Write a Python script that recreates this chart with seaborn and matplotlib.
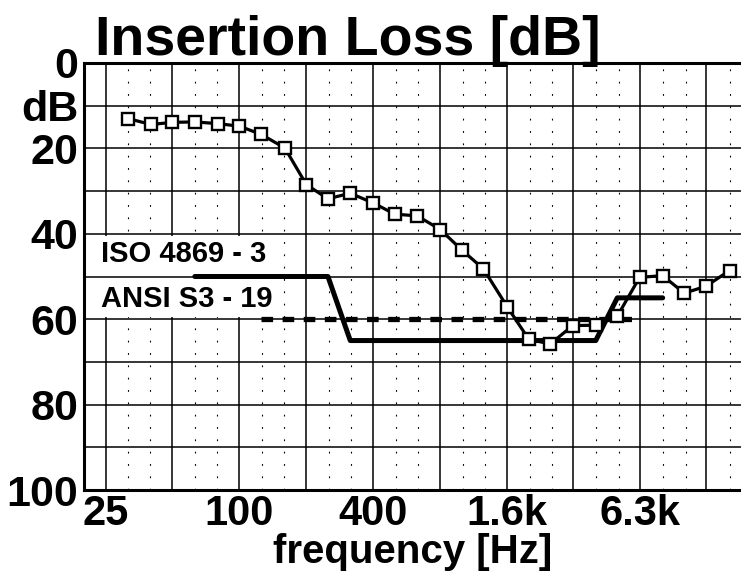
import numpy as np
import seaborn as sns
import matplotlib.pyplot as plt
from matplotlib.patches import Rectangle
from matplotlib.ticker import NullLocator

# measured insertion loss, 1/3-octave bands
freq = [31.5, 40, 50, 63, 80, 100, 125, 160, 200, 250, 315, 400, 500, 630,
        800, 1000, 1250, 1600, 2000, 2500, 3150, 4000, 5000, 6300, 8000,
        10000, 12500, 16000]
insertion_loss = [13.0, 14.4, 13.9, 13.8, 14.2, 14.8, 16.7, 19.9, 28.5, 31.8,
                  30.5, 32.8, 35.4, 35.8, 39.0, 43.8, 48.2, 57.1, 64.7, 65.8,
                  61.5, 61.4, 59.3, 50.2, 49.8, 53.9, 52.3, 48.6]

# reference limits
iso_freq = [63, 250, 315, 4000, 5000, 8000]
iso_loss = [50, 50, 65, 65, 55, 55]
ansi_freq = [125, 6300]
ansi_loss = [60, 60]

x_ticks = [25, 100, 400, 1600, 6300]
x_tick_labels = ["25", "100", "400", "1.6k", "6.3k"]
octave_lines = [25, 50, 100, 200, 400, 800, 1600, 3150, 6300, 12500]
y_ticks = list(range(0, 101, 10))
y_tick_labels = ["0", "dB", "20", "", "40", "", "60", "", "80", "", "100"]

sns.set_style("white")
plt.rcParams["font.family"] = ["Liberation Sans", "DejaVu Sans"]
plt.rcParams["font.weight"] = "bold"
plt.rcParams["text.color"] = "black"
plt.rcParams["xtick.color"] = "black"
plt.rcParams["ytick.color"] = "black"
plt.rcParams["axes.labelcolor"] = "black"

fig = plt.figure(figsize=(7.41, 5.71), dpi=100)
ax = fig.add_axes([84 / 741, 1 - 490 / 571, 1 - 84 / 741, (490 - 63) / 571])
ax.set_xscale("log")
ax.set_xlim(20, 18000)
ax.set_ylim(100, 0)

# grid: solid octave / 10 dB lines, dotted third-octave columns
third_oct = 25 * 2 ** (np.arange(-1, 30) / 3)
for f in third_oct:
    if min(abs(np.log2(f / o)) for o in octave_lines) > 0.05:
        ax.axvline(f, color="black", lw=0.8, linestyle=(0, (1.6, 9.5)), zorder=1)
for f in octave_lines:
    ax.axvline(f, color="black", lw=1.1, zorder=1)
ax.add_patch(Rectangle((20, 40.4), 152 - 20, 19.2, facecolor="white",
                       edgecolor="none", zorder=1.2))
for y in range(10, 100, 10):
    ax.axhline(y, color="black", lw=1.1, zorder=1.5)

sns.lineplot(x=ansi_freq, y=ansi_loss, ax=ax, color="black", lw=3.8,
             linestyle=(0, (2.2, 1.8)), zorder=3)
sns.lineplot(x=iso_freq, y=iso_loss, ax=ax, color="black", lw=3.6,
             sort=False, zorder=4)
sns.lineplot(x=freq, y=insertion_loss, ax=ax, color="black", lw=2.3,
             marker="s", markersize=8.5, markerfacecolor="white",
             markeredgecolor="black", markeredgewidth=1.7, zorder=5)

ax.text(23.8, 44.8, "ISO 4869 - 3", fontsize=21, fontweight="bold",
        ha="left", va="center", zorder=6)
ax.text(23.8, 55.2, "ANSI S3 - 19", fontsize=21, fontweight="bold",
        ha="left", va="center", zorder=6)

ax.set_xticks(x_ticks)
ax.set_xticklabels(x_tick_labels)
ax.xaxis.set_minor_locator(NullLocator())
ax.set_yticks(y_ticks)
ax.set_yticklabels(y_tick_labels)
ax.tick_params(axis="both", length=0, labelsize=31)
ax.tick_params(axis="x", pad=3, labelsize=30)
ax.tick_params(axis="y", pad=4)

ax.set_xlabel("frequency [Hz]", fontsize=29, fontweight="bold", labelpad=-1)
ax.set_ylabel("")
ax.text(0.017, 1.018, "Insertion Loss [dB]", transform=ax.transAxes,
        fontsize=40, fontweight="bold", ha="left", va="baseline")

for side in ["left", "top", "bottom"]:
    ax.spines[side].set_linewidth(2.2)
    ax.spines[side].set_color("black")
ax.spines["right"].set_visible(False)

fig.savefig("out.png", dpi=100)
